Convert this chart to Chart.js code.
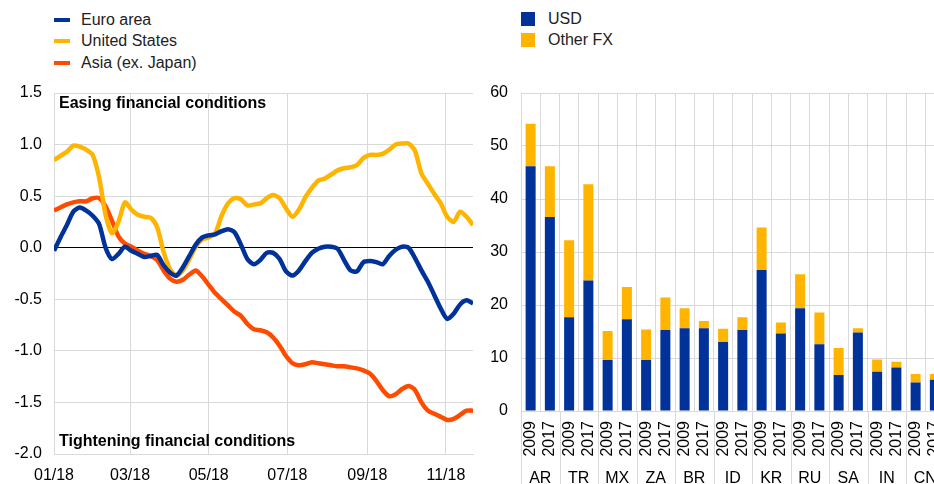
<!DOCTYPE html>
<html>
<head>
<meta charset="utf-8">
<script src="https://cdn.jsdelivr.net/npm/chart.js@4.4.0/dist/chart.umd.min.js"></script>
<style>
body { margin: 0; width: 934px; height: 484px; overflow: hidden; background: #fff; font-family: Arial, "Liberation Sans", sans-serif; }
.legend { position: absolute; font-size: 16px; color: #222; }
.legend .row { position: absolute; left: 0; height: 20px; line-height: 20px; white-space: nowrap; }
.legend .mark { position: absolute; left: 0; }
.legend .txt { position: absolute; left: 27px; top: 0; }
</style>
</head>
<body>
<div id="leg1" class="legend" style="left:54px;top:10px"></div>
<div id="leg2" class="legend" style="left:521px;top:9px"></div>
<canvas id="ch1" width="480" height="404" style="position:absolute;left:0;top:80px"></canvas>
<canvas id="ch2" width="466" height="404" style="position:absolute;left:480px;top:80px"></canvas>
<script>
// left panel: financial conditions indices
var dates = [
  '2018-01-01', '2018-01-06', '2018-01-11', '2018-01-16', '2018-01-21', '2018-01-26', '2018-01-31',
  '2018-02-05', '2018-02-10', '2018-02-15', '2018-02-20', '2018-02-25', '2018-03-02', '2018-03-07',
  '2018-03-12', '2018-03-17', '2018-03-22', '2018-03-27', '2018-04-01', '2018-04-06', '2018-04-11',
  '2018-04-16', '2018-04-21', '2018-04-26', '2018-05-01', '2018-05-06', '2018-05-11', '2018-05-16',
  '2018-05-21', '2018-05-26', '2018-05-31', '2018-06-05', '2018-06-10', '2018-06-15', '2018-06-20',
  '2018-06-25', '2018-06-30', '2018-07-05', '2018-07-10', '2018-07-15', '2018-07-20', '2018-07-25',
  '2018-07-30', '2018-08-04', '2018-08-09', '2018-08-14', '2018-08-19', '2018-08-24', '2018-08-29',
  '2018-09-03', '2018-09-08', '2018-09-13', '2018-09-18', '2018-09-23', '2018-09-28', '2018-10-03',
  '2018-10-08', '2018-10-13', '2018-10-18', '2018-10-23', '2018-10-28', '2018-11-02', '2018-11-07',
  '2018-11-12', '2018-11-17', '2018-11-22'
];
var euroArea = [
  -0.03, 0.10, 0.22, 0.35, 0.39, 0.36, 0.31, 0.23, 0.00, -0.11, -0.06, 0.01, -0.03, -0.06,
  -0.09, -0.08, -0.07, -0.17, -0.24, -0.27, -0.19, -0.08, 0.03, 0.10, 0.12, 0.13, 0.16, 0.18,
  0.15, 0.03, -0.11, -0.16, -0.12, -0.05, -0.05, -0.11, -0.23, -0.27, -0.22, -0.13, -0.05, -0.01,
  0.01, 0.01, -0.01, -0.12, -0.22, -0.23, -0.14, -0.13, -0.14, -0.16, -0.08, -0.02, 0.01, 0.00,
  -0.10, -0.22, -0.33, -0.46, -0.59, -0.69, -0.64, -0.55, -0.51, -0.54
];
var unitedStates = [
  0.85, 0.89, 0.93, 0.99, 0.98, 0.95, 0.90, 0.68, 0.32, 0.14, 0.25, 0.44, 0.37, 0.32,
  0.30, 0.29, 0.20, -0.04, -0.21, -0.27, -0.22, -0.11, 0.01, 0.08, 0.10, 0.14, 0.31, 0.43,
  0.48, 0.47, 0.41, 0.42, 0.43, 0.48, 0.51, 0.48, 0.38, 0.30, 0.37, 0.49, 0.58, 0.65,
  0.67, 0.71, 0.75, 0.77, 0.78, 0.80, 0.87, 0.90, 0.90, 0.91, 0.95, 1.00, 1.01, 1.01,
  0.94, 0.72, 0.62, 0.52, 0.43, 0.30, 0.25, 0.35, 0.30, 0.22
];
var asiaExJapan = [
  0.36, 0.39, 0.42, 0.44, 0.45, 0.45, 0.48, 0.48, 0.40, 0.26, 0.11, 0.04, 0.01, -0.03,
  -0.06, -0.08, -0.12, -0.22, -0.30, -0.33, -0.31, -0.26, -0.22, -0.28, -0.36, -0.44, -0.50, -0.56,
  -0.62, -0.66, -0.74, -0.79, -0.80, -0.82, -0.87, -0.95, -1.05, -1.12, -1.14, -1.13, -1.11, -1.12,
  -1.13, -1.14, -1.15, -1.15, -1.16, -1.17, -1.19, -1.22, -1.29, -1.38, -1.44, -1.42, -1.37, -1.34,
  -1.38, -1.50, -1.58, -1.61, -1.64, -1.67, -1.66, -1.62, -1.58, -1.58
];
var tickDates = ['2018-01-01', '2018-03-01', '2018-05-01', '2018-07-01', '2018-09-01', '2018-11-01'];
var tickLabels = ['01/18', '03/18', '05/18', '07/18', '09/18', '11/18'];
var lineNames = ['Euro area', 'United States', 'Asia (ex. Japan)'];
var lineColors = ['#003299', '#ffb400', '#ff4b00'];

// right panel: debt by currency
var countries = ['AR', 'TR', 'MX', 'ZA', 'BR', 'ID', 'KR', 'RU', 'SA', 'IN', 'CN'];
var years = ['2009', '2017'];
var usd = [46.2, 36.6, 17.7, 24.6, 9.6, 17.3, 9.6, 15.3, 15.6, 15.6, 13.0, 15.3, 26.6, 14.6, 19.4, 12.6, 6.8, 14.8, 7.4, 8.2, 5.4, 5.9];
var otherFx = [8.0, 9.6, 14.5, 18.2, 5.5, 6.1, 5.8, 6.1, 3.8, 1.4, 2.5, 2.4, 8.0, 2.1, 6.4, 6.0, 5.1, 0.8, 2.3, 1.1, 1.6, 1.1];
var barNames = ['USD', 'Other FX'];
var barColors = ['#003299', '#ffb400'];

var gridColor = '#d9d9d9';
var fontFamily = 'Arial, "Liberation Sans", sans-serif';
Chart.defaults.font.family = fontFamily;
Chart.defaults.font.size = 16;
Chart.defaults.color = '#000';

function dayOf(s) {
  return (Date.parse(s) - Date.parse('2018-01-01')) / 86400000;
}

// drop the label overflow padding chart.js adds, sizes are set by hand
function noPad(s) {
  s.paddingLeft = 0; s.paddingRight = 0; s.paddingTop = 0; s.paddingBottom = 0;
}

function makeLegend(id, names, colors, square) {
  var el = document.getElementById(id);
  var gap = square ? 21 : 21.3;
  names.forEach(function (name, i) {
    var row = document.createElement('div');
    row.className = 'row';
    row.style.top = (i * gap) + 'px';
    var mark = document.createElement('span');
    mark.className = 'mark';
    mark.style.background = colors[i];
    if (square) {
      mark.style.width = '14px'; mark.style.height = '14px'; mark.style.top = '3px';
    } else {
      mark.style.width = '16px'; mark.style.height = '4px'; mark.style.top = '8px';
    }
    var txt = document.createElement('span');
    txt.className = 'txt';
    txt.textContent = name;
    row.appendChild(mark);
    row.appendChild(txt);
    el.appendChild(row);
  });
}
makeLegend('leg1', lineNames, lineColors, false);
makeLegend('leg2', barNames, barColors, true);

var tickDays = tickDates.map(dayOf);
var lineSeries = [euroArea, unitedStates, asiaExJapan];

var notes = {
  id: 'notes',
  afterDatasetsDraw: function (chart) {
    var c = chart.ctx, a = chart.chartArea;
    c.save();
    c.font = 'bold 16px ' + fontFamily;
    c.fillStyle = '#000';
    c.textBaseline = 'middle';
    c.fillText('Easing financial conditions', a.left + 5, a.top + 11);
    c.fillText('Tightening financial conditions', a.left + 5, a.bottom - 12);
    c.restore();
  }
};

var ctx = document.getElementById('ch1').getContext('2d');
var lineChart = new Chart(ctx, {
  type: 'line',
  data: {
    datasets: lineNames.map(function (name, k) {
      return {
        label: name,
        data: dates.map(function (d, i) { return { x: dayOf(d), y: lineSeries[k][i] }; }),
        borderColor: lineColors[k],
        borderWidth: 4.5,
        pointRadius: 0,
        tension: 0.25,
        fill: false
      };
    })
  },
  options: {
    responsive: false,
    animation: false,
    layout: { padding: { top: 13, right: 7, left: 0, bottom: 0 } },
    plugins: { legend: { display: false }, tooltip: { enabled: false } },
    scales: {
      x: {
        type: 'linear',
        min: 0,
        max: dayOf(dates[dates.length - 1]),
        afterBuildTicks: function (axis) {
          axis.ticks = tickDays.map(function (v) { return { value: v }; });
        },
        afterFit: function (s) { s.height = 30; noPad(s); },
        ticks: {
          padding: 12,
          maxRotation: 0,
          autoSkip: false,
          callback: function (v) { return tickLabels[tickDays.indexOf(v)]; }
        },
        grid: { color: gridColor, drawTicks: false },
        border: { color: gridColor }
      },
      y: {
        min: -2,
        max: 1.5,
        afterFit: function (s) { s.width = 54; noPad(s); },
        ticks: {
          stepSize: 0.5,
          padding: 12,
          callback: function (v) { return v.toFixed(1); }
        },
        grid: {
          drawTicks: false,
          color: function (c) { return c.tick && c.tick.value === 0 ? '#000' : gridColor; }
        },
        border: { color: gridColor }
      }
    }
  },
  plugins: [notes]
});

// country separators below the bar axis
var groupLines = {
  id: 'groupLines',
  afterDraw: function (chart) {
    var x = chart.scales.x, c = chart.ctx;
    var slot = x.getPixelForValue(1) - x.getPixelForValue(0);
    c.save();
    c.strokeStyle = gridColor;
    c.lineWidth = 1;
    for (var g = 0; g <= countries.length; g++) {
      var px = Math.round(x.getPixelForValue(g * 2) - slot / 2) + 0.5;
      c.beginPath();
      c.moveTo(px, chart.chartArea.bottom);
      c.lineTo(px, chart.height);
      c.stroke();
    }
    c.restore();
  }
};

var yearLabels = [];
countries.forEach(function () { years.forEach(function (y) { yearLabels.push(y); }); });

var ctx2 = document.getElementById('ch2').getContext('2d');
var barChart = new Chart(ctx2, {
  type: 'bar',
  data: {
    labels: yearLabels,
    datasets: [
      { label: barNames[0], data: usd, backgroundColor: barColors[0], barPercentage: 0.52, categoryPercentage: 1 },
      { label: barNames[1], data: otherFx, backgroundColor: barColors[1], barPercentage: 0.52, categoryPercentage: 1 }
    ]
  },
  options: {
    responsive: false,
    animation: false,
    layout: { padding: { top: 13, right: 1.5, left: 0, bottom: 0 } },
    plugins: { legend: { display: false }, tooltip: { enabled: false } },
    scales: {
      x: {
        stacked: true,
        weight: 0,
        afterFit: function (s) { s.height = 46; noPad(s); },
        ticks: { autoSkip: false, minRotation: 90, maxRotation: 90, padding: 10 },
        grid: { color: gridColor, drawTicks: false, offset: true },
        border: { color: gridColor }
      },
      country: {
        type: 'category',
        position: 'bottom',
        weight: 1,
        labels: countries,
        offset: true,
        afterFit: function (s) { s.height = 27; noPad(s); },
        ticks: { autoSkip: false, maxRotation: 0, padding: 12 },
        grid: { display: false, drawTicks: false },
        border: { display: false }
      },
      y: {
        stacked: true,
        min: 0,
        max: 60,
        afterFit: function (s) { s.width = 41; noPad(s); },
        ticks: { stepSize: 10, padding: 13 },
        grid: { color: gridColor, drawTicks: false },
        border: { color: gridColor }
      }
    }
  },
  plugins: [groupLines]
});
</script>
</body>
</html>
